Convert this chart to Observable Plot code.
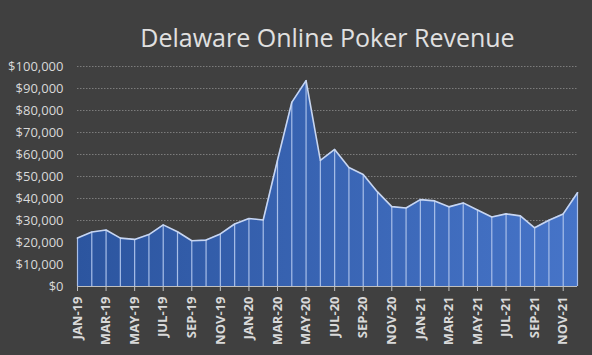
<!DOCTYPE html>
<html>
<head>
<meta charset="utf-8">
<script src="https://cdn.jsdelivr.net/npm/d3@7"></script>
<script src="https://cdn.jsdelivr.net/npm/@observablehq/plot@0.6"></script>
<style>
  html, body { margin: 0; padding: 0; background: #404040; }
</style>
</head>
<body>
<div id="chart"></div>
<script>
const title = "Delaware Online Poker Revenue";
const months = [
  "JAN-19","FEB-19","MAR-19","APR-19","MAY-19","JUN-19","JUL-19","AUG-19","SEP-19","OCT-19","NOV-19","DEC-19",
  "JAN-20","FEB-20","MAR-20","APR-20","MAY-20","JUN-20","JUL-20","AUG-20","SEP-20","OCT-20","NOV-20","DEC-20",
  "JAN-21","FEB-21","MAR-21","APR-21","MAY-21","JUN-21","JUL-21","AUG-21","SEP-21","OCT-21","NOV-21","DEC-21"
];
const revenue = [
  22000, 24800, 25700, 22000, 21400, 23600, 28000, 24900, 20800, 21100, 23900, 28400,
  30900, 30200, 57400, 83700, 93600, 57300, 62300, 54100, 50900, 43000, 36300, 35700,
  39500, 38900, 36200, 38000, 34800, 31600, 33000, 32100, 26700, 30100, 33000, 42600
];
const yTicks = [0, 10000, 20000, 30000, 40000, 50000, 60000, 70000, 80000, 90000, 100000];
const xTicks = months.filter((d, i) => i % 2 === 0);

const data = months.map((m, i) => ({month: m, value: revenue[i]}));

const defs = () => {
  const g = d3.create("svg:defs");
  const lg = g.append("linearGradient").attr("id", "areaGrad")
    .attr("x1", "0").attr("x2", "1").attr("y1", "0").attr("y2", "0");
  lg.append("stop").attr("offset", "0%").attr("stop-color", "#2c559f");
  lg.append("stop").attr("offset", "100%").attr("stop-color", "#4674c8");
  return g.node();
};

const chart = Plot.plot({
  width: 592,
  height: 355,
  marginLeft: 77,
  marginRight: 15,
  marginTop: 66,
  marginBottom: 69,
  style: {background: "#404040", color: "#d9d9d9", fontFamily: "'Open Sans', sans-serif"},
  x: {type: "point", domain: months, padding: 0, round: false, label: null},
  y: {domain: [0, 100000], label: null},
  marks: [
    defs,
    Plot.gridY(yTicks.filter(d => d > 0), {stroke: "#8c8c8c", strokeOpacity: 1, strokeDasharray: "1.5,1.5", strokeWidth: 0.8}),
    Plot.areaY(data, {x: "month", y: "value", fill: "url(#areaGrad)", curve: "linear"}),
    Plot.ruleX(data, {x: "month", y1: 0, y2: "value", stroke: "#a8bfe9", strokeWidth: 1.2}),
    Plot.lineY(data, {x: "month", y: "value", stroke: "#c8d6f1", strokeWidth: 1.6}),
    Plot.ruleY([0], {stroke: "#bfbfbf", strokeWidth: 1}),
    Plot.axisY(yTicks, {tickSize: 0, tickPadding: 14, tickFormat: d3.format("$,"), fontSize: 13, fill: "#d9d9d9", label: null}),
    Plot.axisX(xTicks, {tickSize: 5, tickPadding: 5, tickRotate: -90, fontSize: 13, fontWeight: "bold", fill: "#d9d9d9", stroke: "#bfbfbf", label: null}),
    Plot.text([title], {frameAnchor: "top", dy: -37, fontSize: 25, fill: "#e0e0e0"})
  ]
});
document.getElementById("chart").appendChild(chart);
</script>
</body>
</html>
